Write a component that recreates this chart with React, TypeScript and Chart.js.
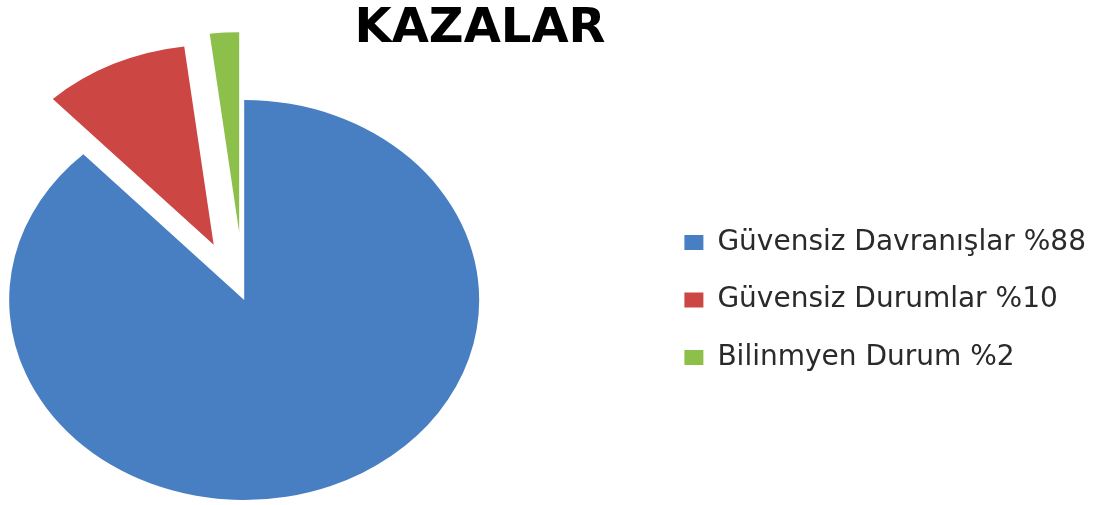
import { useEffect, useRef } from 'react';
import { Chart, registerables } from 'chart.js';

Chart.register(...registerables);

// ---- data ----
const TITLE = 'KAZALAR';
const CATEGORIES = ['Güvensiz Davranışlar %88', 'Güvensiz Durumlar %10', 'Bilinmyen Durum %2'];
const VALUES = [88, 10, 2];

// ---- styles ----
const COLORS = ['#487EC2', '#CC4644', '#8DC04A'];
const EXPLODE = [0, 61, 68]; // how far each slice is pulled out (px)
const STRETCH_X = 1.175; // the original pie is a horizontally stretched ellipse
const LEGEND_GAP = 166.5; // extra room between pie area and legend
const FONT = 'DejaVu Sans';

const explodedEllipsePie = {
  id: 'explodedEllipsePie',
  afterLayout(chart: any) {
    chart.chartArea.right -= LEGEND_GAP;
    chart.chartArea.width -= LEGEND_GAP;
  },
  beforeDatasetDraw(chart: any, args: any) {
    const ctx = chart.ctx;
    args.meta.data.forEach((arc: any, i: number) => {
      const { x, y, startAngle, endAngle } = arc.getProps(['x', 'y', 'startAngle', 'endAngle'], true);
      const mid = (startAngle + endAngle) / 2;
      const d = EXPLODE[i] || 0;
      ctx.save();
      ctx.translate(x, y);
      ctx.scale(STRETCH_X, 1);
      ctx.translate(Math.cos(mid) * d, Math.sin(mid) * d);
      ctx.translate(-x, -y);
      arc.draw(ctx);
      ctx.restore();
    });
    return false;
  },
};

export default function App() {
  const canvasRef = useRef<HTMLCanvasElement | null>(null);

  useEffect(() => {
    if (!canvasRef.current) return;
    const chart = new Chart(canvasRef.current, {
      type: 'pie',
      data: {
        labels: CATEGORIES,
        datasets: [
          {
            data: VALUES,
            backgroundColor: COLORS,
            borderWidth: 0,
            radius: 200,
          } as any,
        ],
      },
      options: {
        responsive: false,
        animation: false,
        events: [],
        layout: { padding: { left: -136, right: 14, top: 0, bottom: 0 } },
        plugins: {
          title: {
            display: true,
            text: TITLE,
            color: '#000000',
            align: 'center',
            fullSize: true,
            font: { family: FONT, size: 48, weight: 'bold', lineHeight: 1 },
            padding: { top: 6, bottom: 41 },
          },
          legend: {
            display: true,
            position: 'right',
            align: 'center',
            fullSize: false,
            labels: {
              font: { family: FONT, size: 28 },
              color: '#2a2a2a',
              boxWidth: 19,
              boxHeight: 15,
              padding: 29.5,
            },
          },
          tooltip: { enabled: false },
        },
      },
      plugins: [explodedEllipsePie],
    });
    return () => chart.destroy();
  }, []);

  return (
    <div style={{ position: 'fixed', left: 0, top: 0, width: 1110, height: 505, background: '#ffffff' }}>
      <canvas ref={canvasRef} width={1110} height={505} style={{ display: 'block' }} />
    </div>
  );
}
